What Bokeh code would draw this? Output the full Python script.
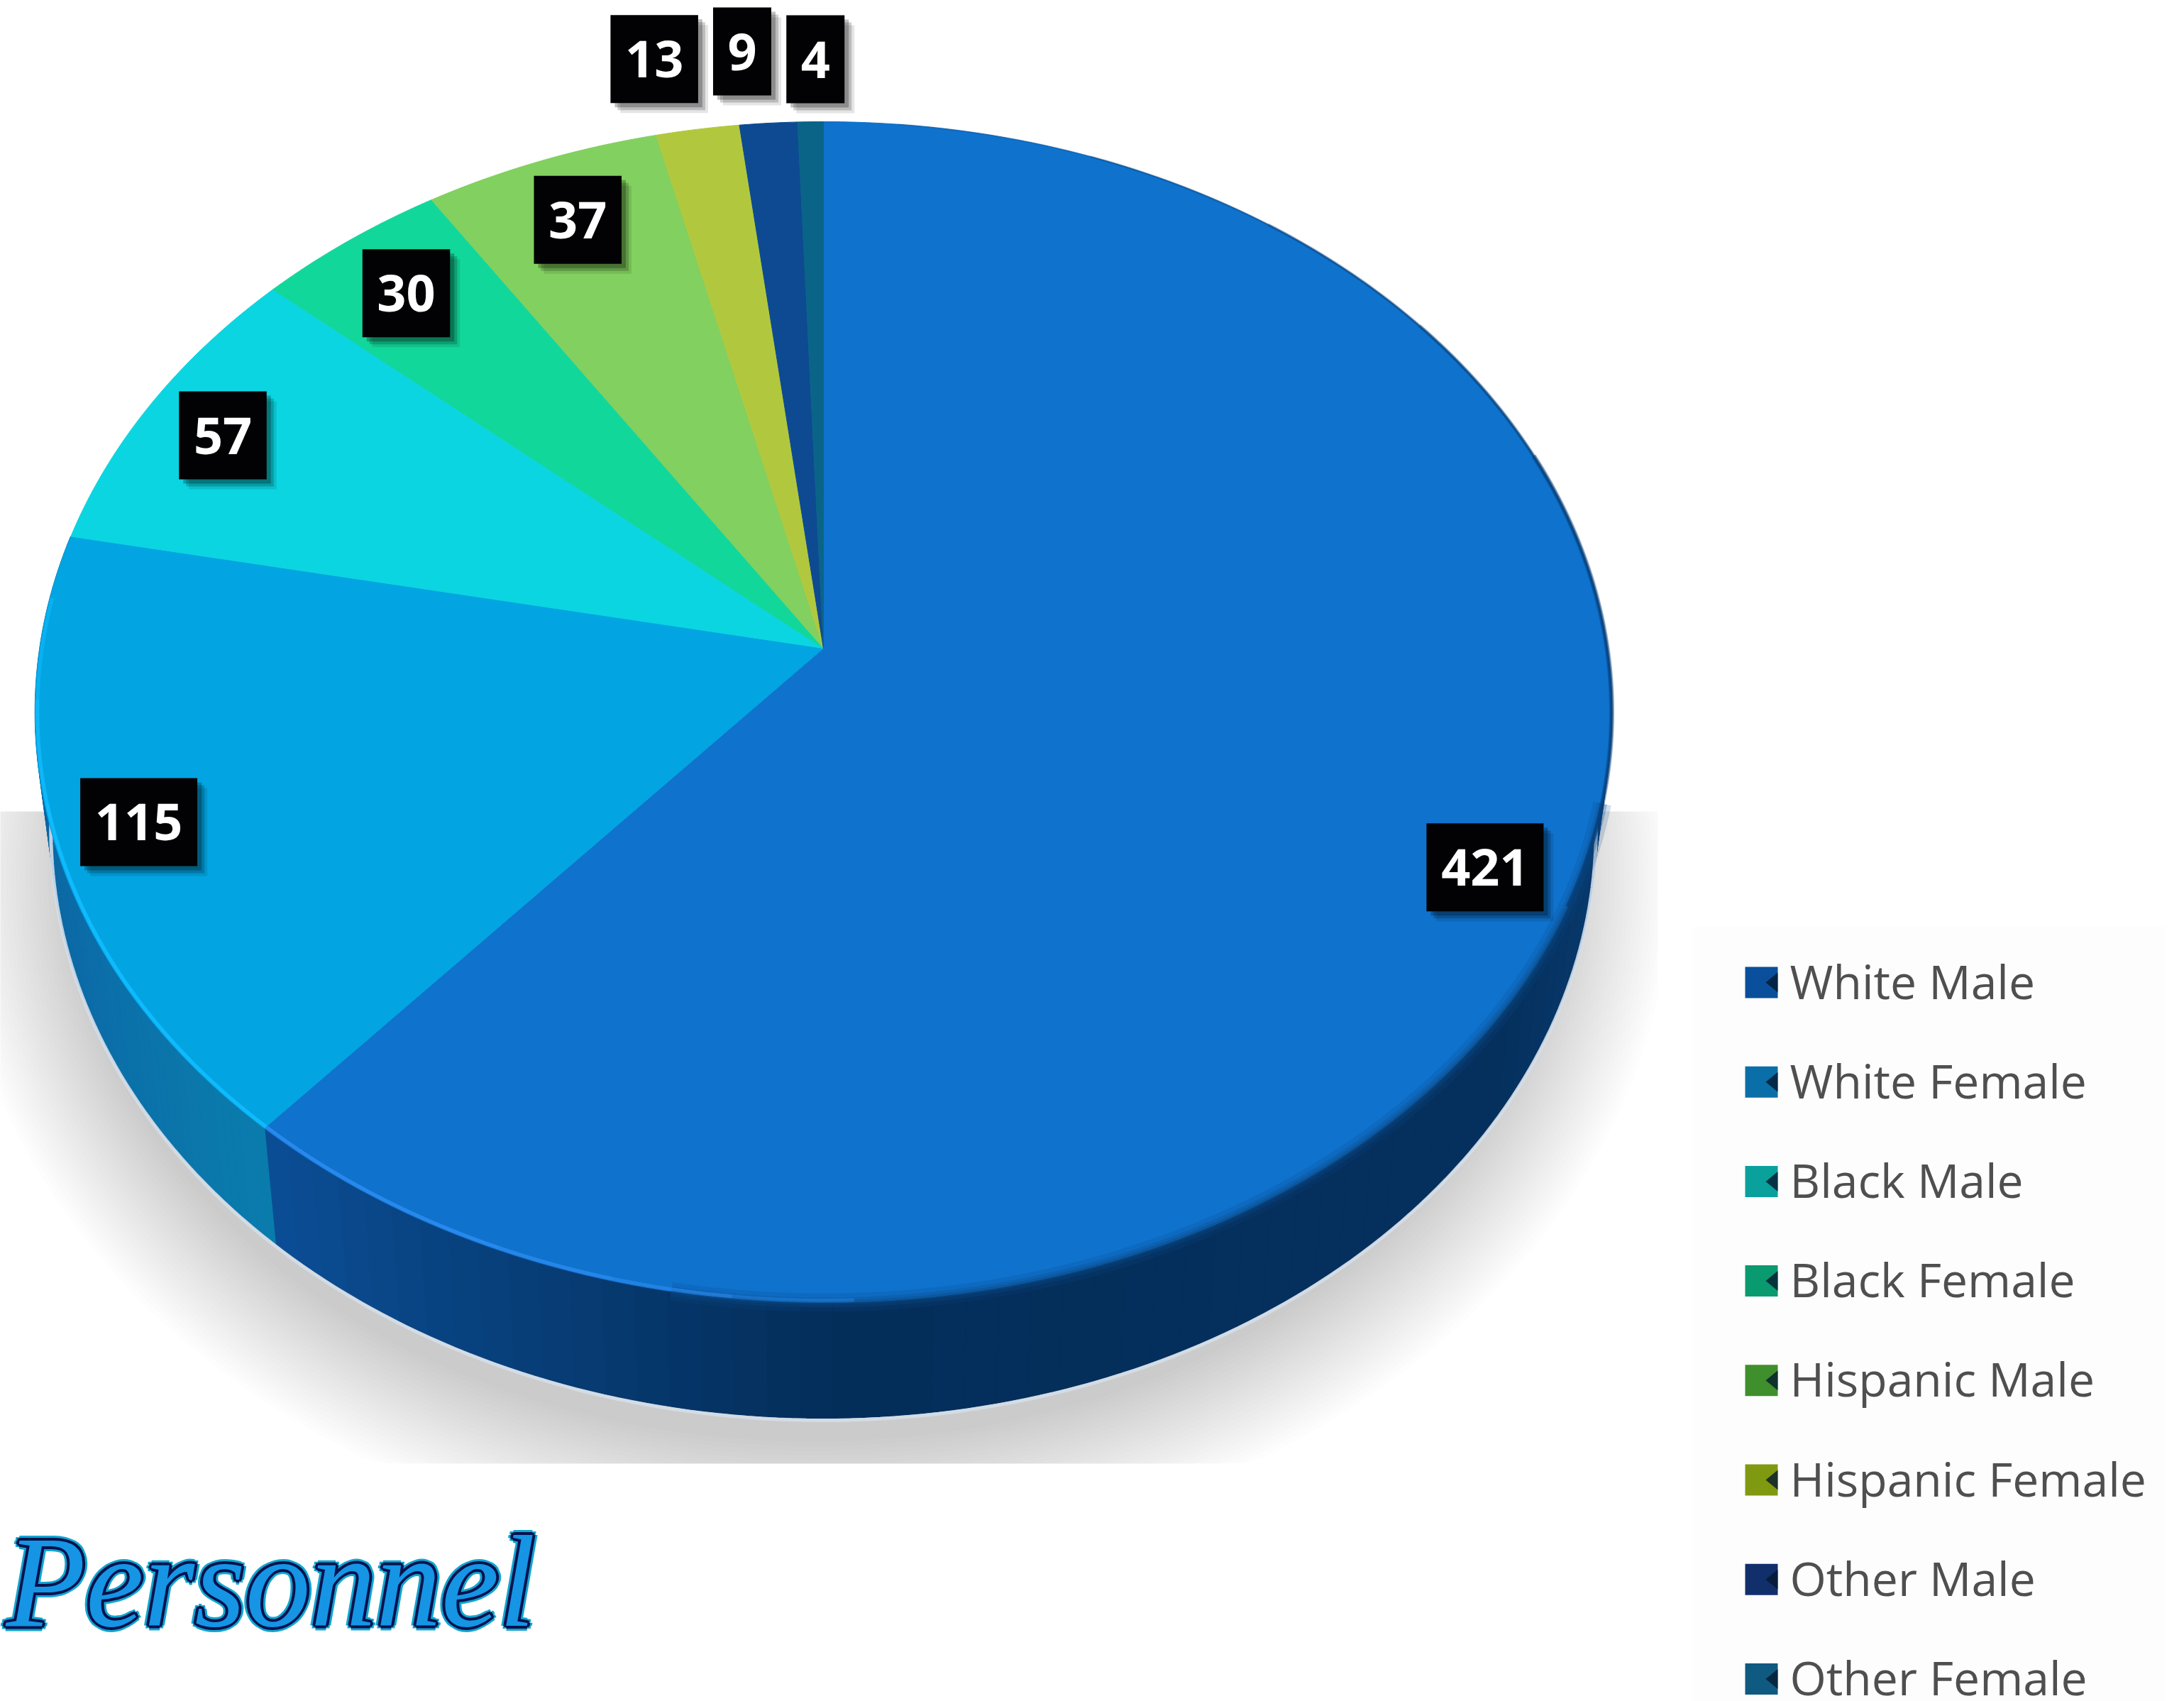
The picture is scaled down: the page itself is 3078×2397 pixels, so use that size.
import numpy as np
from bokeh.plotting import figure
from bokeh.models import Range1d
from bokeh.core.properties import value
from bokeh.embed import file_html
from bokeh.resources import INLINE

categories = ["White Male", "White Female", "Black Male", "Black Female",
              "Hispanic Male", "Hispanic Female", "Other Male", "Other Female"]
counts = [421, 115, 57, 30, 37, 13, 9, 4]
face_colors = ["#0F72CC", "#02A4E2", "#0BD5E0", "#12D79A", "#82D05F", "#B1C83E", "#0D4A92", "#0A6488"]
swatch_colors = ["#0A4F9C", "#0A6FA8", "#0AA09C", "#0A9A70", "#3F8F2C", "#7F9A10", "#102F6B", "#0F5A80"]
title_text = "Personnel"

# layout: label offset from the slice's rim point at its mid-angle
label_offsets = [(-143, 10), (118, -31), (99, 47), (81, 74), (52, 83), (-61, -99), (-37, -101), (7, -88)]

W, H = 3078, 2397
X0, Y0 = 0, 0
CX, CY, RX, RY, SHIFT, DEPTH = 1160.0, 1003.0, 1111.0, 832.0, 90.0, 163.0
K = SHIFT / RY
A = RX * np.sqrt(1 - K * K)
BOTTOM_SCALE = 0.98


def rim(theta, f=1.0):
    """Screen position of a point of the tilted disc; theta clockwise from 12 o'clock."""
    u, v = f * np.sin(theta), f * np.cos(theta)
    d = 1 + K * v
    return CX + A * u / d, CY - (RY * v + SHIFT) / d


def rim_bottom(theta):
    x, y = rim(theta)
    return CX + (x - CX) * BOTTOM_SCALE, y + DEPTH


def hex_rgb(h):
    return np.array([int(h[i:i + 2], 16) for i in (1, 3, 5)], float)


def ramp(t, stops):
    ts = [s[0] for s in stops]
    rgb = np.array([hex_rgb(s[1]) for s in stops])
    c = [np.interp(t, ts, rgb[:, i]) for i in range(3)]
    return "#%02x%02x%02x" % tuple(int(round(x)) for x in c)


p = figure(width=W, height=H, output_backend="svg", toolbar_location=None,
           x_range=Range1d(X0, X0 + W), y_range=Range1d(Y0 + H, Y0),
           min_border=0, background_fill_color="white", border_fill_color="white",
           outline_line_color=None)
p.axis.visible = False
p.grid.visible = False

# faint legend panel
p.quad(left=[2385], right=[3050], top=[1305], bottom=[2397], fill_color="#F7F7F7",
       fill_alpha=0.3, line_color=None)

# soft shadow: stacked translucent ellipses cut to the shadow's rectangle
t_all = np.linspace(0, 2 * np.pi, 240)
for e in np.linspace(135, -30, 26):
    sx = CX - 15 + (1075 + e) * np.sin(t_all)
    sy = CY + DEPTH + 70 + (825 + e) * np.cos(t_all)
    p.patch(np.clip(sx, -20, 2336), np.clip(sy, 1143, 2062), fill_color="black",
            fill_alpha=0.0085, line_color=None)

fractions = np.array(counts, float) / sum(counts)
edges = np.concatenate([[0.0], np.cumsum(fractions)]) * 2 * np.pi

# side wall, cut into narrow strips so that it shades along the rim
wall_stops = {
    0: [(80, "#0B4580"), (125, "#05305E"), (180, "#042E5A"), (205, "#08427F"), (221, "#0B4E96")],
    1: [(221, "#0A7CAC"), (245, "#0C6CA8"), (285, "#0A5C96")],
}
for i, (lo, hi) in {0: (np.radians(70), edges[1]), 1: (edges[1], edges[2])}.items():
    cuts = np.linspace(lo, hi, 70)
    for a, b in zip(cuts[:-1], cuts[1:]):
        ts = np.linspace(a, b, 3)
        tx, ty = rim(ts)
        bx, by = rim_bottom(ts)
        c = ramp(np.degrees((a + b) / 2), wall_stops[i])
        p.patch(np.r_[tx, bx[::-1]], np.r_[ty, by[::-1]], fill_color=c, line_color=c, line_width=1.5)

# pale edge between wall and shadow
ts = np.linspace(np.radians(90), np.radians(285), 200)
bx, by = rim_bottom(ts)
p.line(bx, by + 3, line_color="#D4DEE8", line_width=5, line_alpha=0.9)

# top face
for i, c in enumerate(face_colors):
    ts = np.linspace(edges[i], edges[i + 1], max(4, int(counts[i] * 1.5)))
    fx, fy = rim(ts)
    ax, ay = rim(0.0, 0.0)
    p.patch(np.r_[ax, fx], np.r_[ay, fy], fill_color=c, line_color=c, line_width=1)

# soft transition from face to wall, bright rim, and dark rim at upper right
for lw, al in ((26, 0.18), (14, 0.28), (6, 0.4)):
    ts = np.linspace(np.radians(105), np.radians(190), 120)
    x, y = rim(ts)
    p.line(x, y, line_color="#0A4A88", line_width=lw, line_alpha=al)
for start, lw, al in ((6, 2, 0.25), (22, 3, 0.25), (38, 4, 0.3), (54, 5, 0.3), (70, 7, 0.4)):
    ts = np.linspace(np.radians(start), np.radians(115), 120)
    x, y = rim(ts)
    p.line(x, y, line_color="#083E78", line_width=lw, line_alpha=al)
for start in (178, 186, 194, 202):
    ts = np.linspace(np.radians(start), edges[1], 60)
    x, y = rim(ts, 0.997)
    p.line(x, y, line_color="#2E8CF0", line_width=5, line_alpha=0.4)
for stop in (255, 265, 275):
    ts = np.linspace(edges[1], np.radians(stop), 90)
    x, y = rim(ts, 0.997)
    p.line(x, y, line_color="#12BEFF", line_width=5, line_alpha=0.5)

# value labels
for i, n in enumerate(counts):
    mx, my = rim((edges[i] + edges[i + 1]) / 2)
    cx, cy = mx + label_offsets[i][0], my + label_offsets[i][1]
    hw = (82 + 41.5 * (len(str(n)) - 1)) / 2
    for off, al in ((14, 0.10), (10, 0.18), (6, 0.25)):
        p.quad(left=[cx - hw + off], right=[cx + hw + off], top=[cy - 62 + off], bottom=[cy + 62 + off],
               fill_color="black", fill_alpha=al, line_color=None)
    p.quad(left=[cx - hw], right=[cx + hw], top=[cy - 62], bottom=[cy + 62],
           fill_color="#020204", line_color=None)
    p.text([cx], [cy], text=[str(n)], text_color="white", text_font=value("Open Sans"),
           text_font_style="bold", text_font_size=value("72px"),
           text_align="center", text_baseline="middle")

# legend
for i, name in enumerate(categories):
    y = 1384 + i * 140.2
    p.quad(left=[2459], right=[2505], top=[y - 22], bottom=[y + 22], fill_color=swatch_colors[i], line_color=None)
    p.patch([2505, 2488, 2505], [y - 14, y, y + 14], fill_color="#04182E", fill_alpha=0.8, line_color=None)
    p.text([2522], [y - 3], text=[name], text_color="#4F4F4F", text_font=value("Open Sans"),
           text_font_size=value("66px"), text_align="left", text_baseline="middle")

# script-like title built from stacked copies: outer glow, dark outline, blue core
TX, TY, TS = 8.0, 2228.0, "184px"
rings = [(7, "#12A6D0"), (4, "#06124E")]
for r, col in rings:
    for ang in np.linspace(0, 2 * np.pi, 8, endpoint=False):
        p.text([float(TX + r * np.cos(ang))], [float(TY + r * np.sin(ang))], text=[title_text], text_color=col,
               text_font=value("Liberation Serif"), text_font_style="italic",
               text_font_size=value(TS), text_align="left", text_baseline="middle")
p.text([TX], [TY], text=[title_text], text_color="#1595E4", text_font=value("Liberation Serif"),
       text_font_style="italic", text_font_size=value(TS), text_align="left", text_baseline="middle")

open("out.html", "w").write(file_html(p, INLINE))
